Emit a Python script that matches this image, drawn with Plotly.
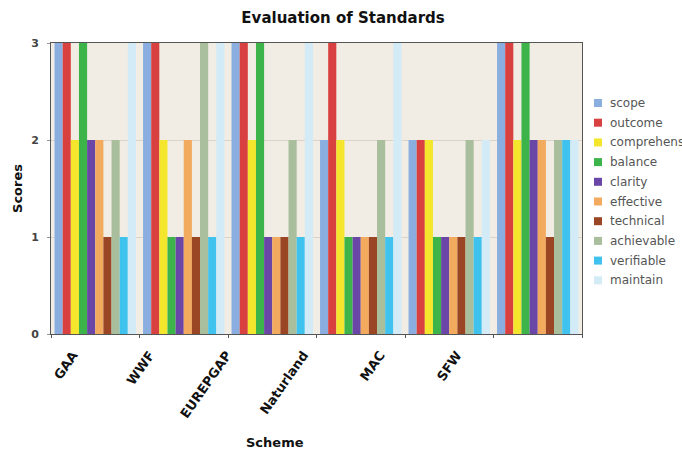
import plotly.graph_objects as go

schemes = ["GAA", "WWF", "EUREPGAP", "Naturland", "MAC", "SFW"]
criteria = ["scope", "outcome", "comprehensive", "balance", "clarity",
            "effective", "technical", "achievable", "verifiable", "maintain"]
colors = ["#8AAEE0", "#D8413F", "#F4E62C", "#3CB44A", "#6A46A6",
          "#F2AA5E", "#9A4523", "#A9BE9C", "#3FC3EE", "#D2EBF6"]

scope = [3, 3, 3, 2, 2, 3]
outcome = [3, 3, 3, 3, 2, 3]
comprehensive = [2, 2, 2, 2, 2, 2]
balance = [3, 1, 3, 1, 1, 3]
clarity = [2, 1, 1, 1, 1, 2]
effective = [2, 2, 1, 1, 1, 2]
technical = [1, 1, 1, 1, 1, 1]
achievable = [2, 3, 2, 2, 2, 2]
verifiable = [1, 1, 1, 1, 1, 2]
maintain = [3, 3, 3, 3, 2, 2]
series = [scope, outcome, comprehensive, balance, clarity,
          effective, technical, achievable, verifiable, maintain]

FONT = "DejaVu Sans"
W, H = 682, 451
L, R, T, B = 51, 100, 43, 117
pw = W - L - R
ph = H - T - B

fig = go.Figure()
for name, vals, col in zip(criteria, series, colors):
    fig.add_trace(go.Bar(x=schemes, y=vals, name=name, marker_color=col,
                         marker_line_width=0, showlegend=False))

# carrier trace so the label axis is drawn (invisible)
fig.add_trace(go.Scatter(x=list(range(len(schemes))), y=[0] * len(schemes),
                         xaxis="x2", mode="markers", marker=dict(opacity=0),
                         hoverinfo="skip", showlegend=False))

# label axis positions (labels in reference are shifted left & compressed)
first_px, step_px = 73, 76.8
r0 = -(first_px - L) / step_px
r1 = r0 + pw / step_px

fig.update_layout(
    width=W, height=H,
    margin=dict(l=L, r=R, t=T, b=B, autoexpand=False),
    paper_bgcolor="white",
    plot_bgcolor="#F1ECE4",
    barmode="group", bargap=0.08, bargroupgap=0,
    font=dict(family=FONT, color="#333"),
    title=dict(text="<b>Evaluation of Standards</b>", x=0.503, xref="container",
               y=1 - 18 / H, yanchor="middle", yref="container",
               font=dict(size=15, color="#111", family=FONT)),
    xaxis=dict(type="category", showticklabels=False, ticks="outside",
               tickson="boundaries", ticklen=3, tickcolor="#555",
               showline=True, linecolor="#555", linewidth=1, mirror=True,
               showgrid=False),
    xaxis2=dict(overlaying="x", anchor="y", side="bottom", range=[r0, r1],
                tickmode="array", tickvals=list(range(len(schemes))),
                ticktext=["<b>%s</b>" % s for s in schemes], tickangle=-55,
                showgrid=False, showline=False, ticks="", zeroline=False,
                ticklabelstandoff=10,
                tickfont=dict(size=13, color="#111", family=FONT)),
    yaxis=dict(range=[0, 3], tickvals=[0, 1, 2, 3],
               ticktext=["<b>%d</b>" % v for v in [0, 1, 2, 3]],
               tickfont=dict(size=11, color="#444", family=FONT),
               ticks="outside", ticklen=3, tickcolor="#999",
               ticklabelstandoff=6,
               showline=True, linecolor="#555", linewidth=1, mirror=True,
               showgrid=True, gridcolor="#D9D3C9", gridwidth=1, zeroline=False,
               title=dict(text="<b>Scores</b>", standoff=5,
                          font=dict(size=13, color="#111", family=FONT))),
)

# x-axis title
fig.add_annotation(text="<b>Scheme</b>", xref="paper", yref="paper",
                   x=(275 - L) / pw, y=(T + ph - 442) / ph, showarrow=False,
                   xanchor="center", yanchor="middle",
                   font=dict(size=13, color="#111", family=FONT))

# custom legend
leg_x0, sw, gap = 594, 8, 6
leg_y0, leg_dy = 103, 19.7
for i, (name, col) in enumerate(zip(criteria, colors)):
    cy = leg_y0 + i * leg_dy
    fig.add_shape(type="rect", xref="paper", yref="paper",
                  x0=(leg_x0 - L) / pw, x1=(leg_x0 + sw - L) / pw,
                  y0=(T + ph - (cy + sw / 2)) / ph, y1=(T + ph - (cy - sw / 2)) / ph,
                  fillcolor=col, line_width=0)
    fig.add_annotation(text=name, xref="paper", yref="paper",
                       x=(leg_x0 + sw + gap - L) / pw, y=(T + ph - cy) / ph,
                       xanchor="left", yanchor="middle", showarrow=False,
                       font=dict(size=12, color="#555", family=FONT))

fig.write_html("out.html",
               config={"displayModeBar": False},
               post_script="document.body.style.margin='0';"
                           "document.body.style.overflow='hidden';")
